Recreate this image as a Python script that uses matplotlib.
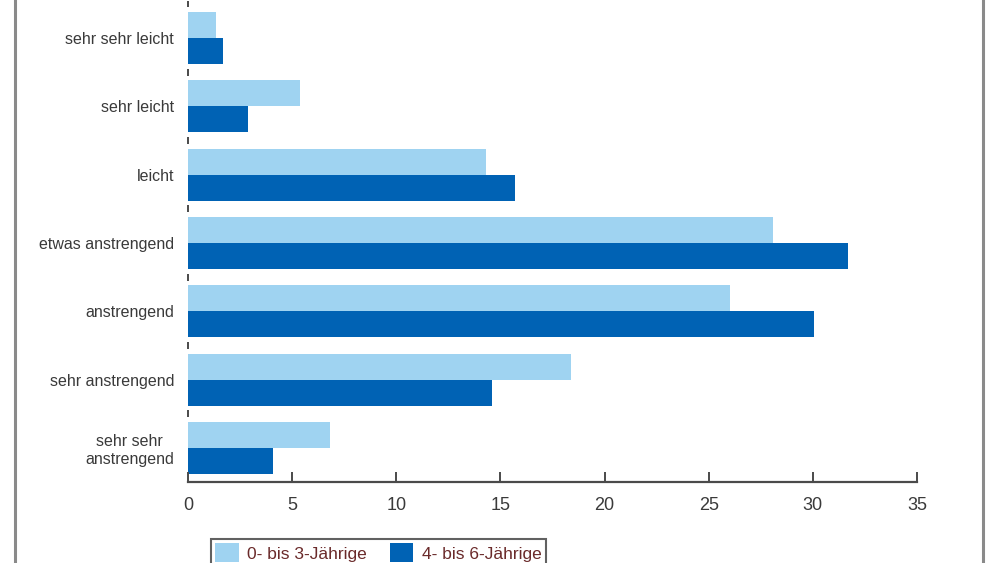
import matplotlib
matplotlib.use("Agg")
import matplotlib.pyplot as plt
from matplotlib.lines import Line2D
from matplotlib.patches import Patch
import numpy as np

categories = ["sehr sehr leicht", "sehr leicht", "leicht", "etwas anstrengend",
              "anstrengend", "sehr anstrengend", "sehr sehr\nanstrengend"]
series_names = ["0- bis 3-Jährige", "4- bis 6-Jährige"]
values_0_3 = [1.35, 5.4, 14.3, 28.1, 26.0, 18.4, 6.8]
values_4_6 = [1.7, 2.9, 15.7, 31.7, 30.05, 14.6, 4.1]
xticks = [0, 5, 10, 15, 20, 25, 30, 35]

light = "#9fd3f1"
dark = "#0062b4"
axis_col = "#4a4a4a"
label_col = "#3a3a3a"

plt.rcParams['font.family'] = ['Liberation Sans', 'DejaVu Sans']

fig = plt.figure(figsize=(10, 5.63), dpi=100)
ax = fig.add_axes([0.188, 0.1439, 0.729, 0.849])

y = np.arange(len(categories))
h = 0.38
ax.barh(y - h / 2, values_0_3, height=h, color=light, label=series_names[0])
ax.barh(y + h / 2, values_4_6, height=h, color=dark, label=series_names[1])

ax.set_xlim(0, 35)
ax.set_ylim(len(categories) - 0.5, -0.5)

for s in ["top", "right", "left"]:
    ax.spines[s].set_visible(False)
ax.spines["bottom"].set_color(axis_col)
ax.spines["bottom"].set_linewidth(1.6)

ax.set_xticks(xticks)
ax.set_xticklabels([str(t) for t in xticks], fontsize=13, color=label_col)
ax.tick_params(axis="x", direction="in", length=7, width=1.4, color=axis_col, pad=11)

ax.set_yticks(y)
ax.set_yticklabels(categories, fontsize=11.5, color=label_col, multialignment="center")
ax.tick_params(axis="y", length=0, pad=10)

# small boundary marks on the left axis
bounds = np.arange(len(categories) + 1) - 0.5
for b in bounds[:-1]:
    ax.plot([0, 0], [b - 0.05, b + 0.05], color=axis_col, lw=1.4, clip_on=False,
            solid_capstyle="butt")

# outer frame lines
fig.add_artist(Line2D([0.0147, 0.0147], [0, 1], transform=fig.transFigure,
                      color="#8a8a8a", lw=2.2))
fig.add_artist(Line2D([0.983, 0.983], [0, 1], transform=fig.transFigure,
                      color="#8a8a8a", lw=2.2))

handles = [Patch(facecolor=light, edgecolor="none"), Patch(facecolor=dark, edgecolor="none")]
leg = fig.legend(handles, series_names, loc="upper left",
                 bbox_to_anchor=(0.211, 1 - 539 / 563), bbox_transform=fig.transFigure,
                 ncol=2, fontsize=12.5, frameon=True, fancybox=False,
                 handlelength=1.35, handleheight=1.3, handletextpad=0.5,
                 columnspacing=1.3, borderpad=0.25, borderaxespad=0)
leg.get_frame().set_edgecolor("#3a3a3a")
leg.get_frame().set_linewidth(1.5)
for t in leg.get_texts():
    t.set_color("#6a2a2a")

fig.savefig("out.png", dpi=100)
